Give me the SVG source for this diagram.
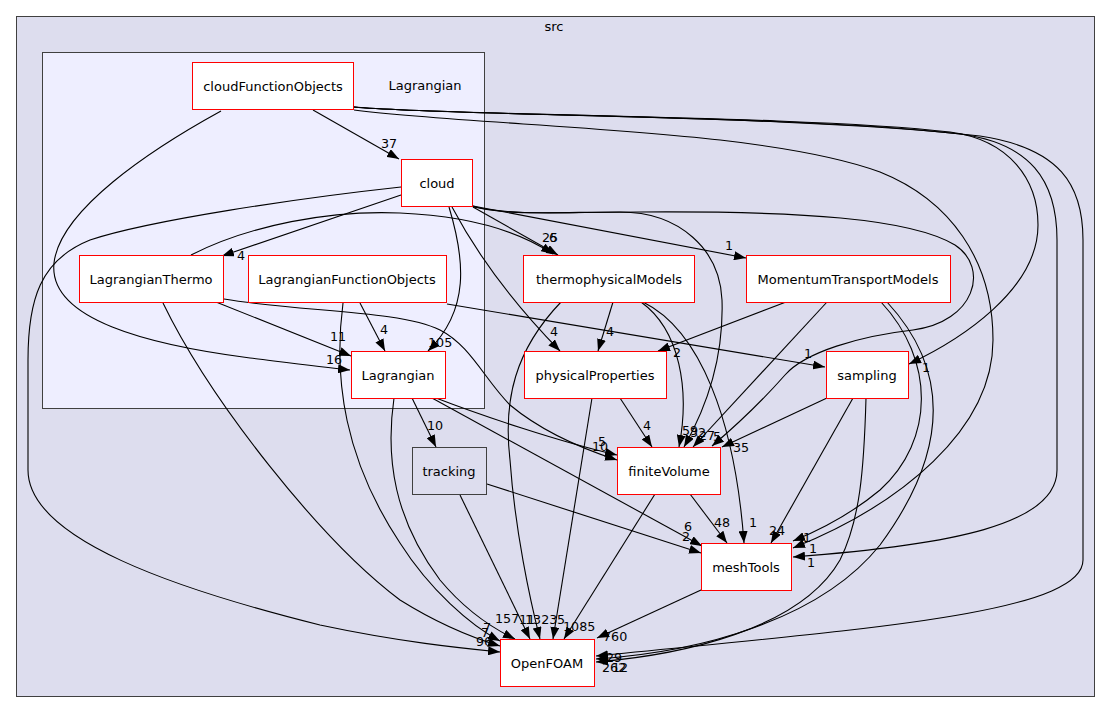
<svg xmlns="http://www.w3.org/2000/svg" width="1111" height="713" viewBox="0 0 1111 713">
<style>
text{font-family:"DejaVu Sans","Liberation Sans",sans-serif;font-size:13px;fill:#000}
.n{fill:#fff;stroke:#ff0000;stroke-width:1}
.t{text-anchor:middle}
.e path{fill:none;stroke:#000;stroke-width:1.1;marker-end:url(#ah)}
.l text{font-size:12.7px}
</style>
<defs>
<marker id="ah" markerWidth="12" markerHeight="9" refX="12" refY="4.5" orient="auto" markerUnits="userSpaceOnUse"><path d="M0,0 L12,4.5 L0,9 z" fill="#000"/></marker>
</defs>
<rect width="1111" height="713" fill="#fff"/>
<g id="cluster_src">
<rect x="16.5" y="16.5" width="1078" height="680" fill="#ddddee" stroke="#404040"/>
<text class="t" x="554" y="31">src</text>
</g>
<g id="cluster_Lagrangian">
<rect x="42.5" y="52.5" width="442" height="356" fill="#eeeeff" stroke="#404040"/>
<text class="t" x="425" y="90">Lagrangian</text>
</g>
<g id="edges" class="e">
<path d="M313,110 L399,159"/>
<path d="M221,111 C150,150 60,210 54,263 C48,320 150,345 250,358 C290,363 320,367 350,370"/>
<path d="M401,195 L222,256"/>
<path d="M449,207 C465,260 470,310 428,351"/>
<path d="M473,207 L558,255"/>
<path d="M191,255 C250,225 330,210 400,213 C470,216 520,232 553,254"/>
<path d="M473,206 L746,258"/>
<path d="M452,207 C480,260 520,310 560,351"/>
<path d="M401,187 C300,198 150,220 90,240 C40,260 28,300 28,360 L28,470 C28,540 180,590 320,625 C400,642 460,648 500,652"/>
<path d="M216,302 L351,356"/>
<path d="M360,303 L385,351"/>
<path d="M447,304 L825,367"/>
<path d="M343,303 C333,380 345,460 400,543 C430,590 470,625 500,641"/>
<path d="M163,303 C210,400 320,540 400,600 C440,625 470,637 500,646"/>
<path d="M224,299 C300,312 400,310 440,330 C470,345 485,380 510,405 C540,430 580,448 617,460"/>
<path d="M436,398 C480,415 560,442 617,455"/>
<path d="M394,398 C385,460 395,520 440,580 C465,610 490,627 515,639"/>
<path d="M412,398 L436,447"/>
<path d="M432,398 L702,546"/>
<path d="M487,484 L701,553"/>
<path d="M460,495 L530,639"/>
<path d="M613,302 L598,351"/>
<path d="M641,302 C680,330 690,390 679,447"/>
<path d="M643,302 C700,330 735,420 744,543"/>
<path d="M561,302 C515,350 503,400 510,460 C515,530 530,600 540,639"/>
<path d="M786,302 L658,351"/>
<path d="M827,302 L693,447"/>
<path d="M881,302 C935,360 935,440 880,490 C850,515 820,530 793,541"/>
<path d="M887,302 C950,370 950,450 880,545 C820,620 700,652 596,659"/>
<path d="M620,398 L652,447"/>
<path d="M592,398 L553,639"/>
<path d="M827,398 L722,447"/>
<path d="M853,398 L771,543"/>
<path d="M866,398 C864,470 860,520 840,560 C800,630 680,655 596,662"/>
<path d="M690,494 L727,543"/>
<path d="M655,494 L564,639"/>
<path d="M701,590 L597,638"/>
<path d="M354,107 C450,116 800,115 950,132 C1010,140 1038,180 1038,225 C1038,290 960,340 909,364"/>
<path d="M354,107 C450,116 800,115 960,134 C1030,143 1057,180 1057,240 L1057,470 C1057,525 950,545 793,557"/>
<path d="M354,107 C450,116 800,115 980,136 C1060,148 1083,185 1083,240 L1083,560 C1083,615 850,630 596,656"/>
<path d="M354,110 C500,128 760,128 880,172 C950,200 993,260 993,340 C993,430 900,505 793,548"/>
<path d="M473,207 C520,216 560,212 640,212 C800,211 910,218 955,245 C990,268 975,322 913,330 C860,336 805,352 785,375 C770,392 745,418 712,446"/>
<path d="M473,206 C500,216 560,212 620,212 C680,212 720,250 722,300 C724,360 705,410 684,447"/>
</g>
<g id="edge_labels" class="l">
<text x="381" y="148">37</text>
<text x="326" y="364">16</text>
<text x="237" y="260">4</text>
<text x="428" y="347">105</text>
<text x="542" y="242">25</text>
<text x="549" y="242">6</text>
<text x="725" y="250">1</text>
<text x="550" y="336">4</text>
<text x="330" y="341">11</text>
<text x="380" y="334">4</text>
<text x="804" y="358">1</text>
<text x="922" y="372">1</text>
<text x="427" y="430">10</text>
<text x="598" y="446">5</text>
<text x="592" y="451">10</text>
<text x="643" y="430">4</text>
<text x="606" y="336">4</text>
<text x="673" y="357">2</text>
<text x="682" y="435">59</text>
<text x="690" y="437">32</text>
<text x="699" y="440">27</text>
<text x="713" y="441">5</text>
<text x="733" y="452">35</text>
<text x="684" y="531">6</text>
<text x="682" y="541">2</text>
<text x="714" y="527">48</text>
<text x="749" y="527">1</text>
<text x="769" y="535">24</text>
<text x="803" y="542">1</text>
<text x="809" y="553">1</text>
<text x="807" y="567">1</text>
<text x="603" y="641">760</text>
<text x="606" y="662">29</text>
<text x="602" y="672">262</text>
<text x="612" y="672">12</text>
<text x="495" y="623">157</text>
<text x="519" y="624">11</text>
<text x="525" y="624">1323</text>
<text x="557" y="624">5</text>
<text x="563" y="631">1085</text>
<text x="483" y="632">7</text>
<text x="481" y="637">7</text>
<text x="476" y="646">96</text>
</g>
<g id="node_cloudFunctionObjects"><rect class="n" x="192.5" y="62.5" width="161" height="47"/><text class="t" x="273" y="91">cloudFunctionObjects</text></g>
<g id="node_cloud"><rect class="n" x="401.5" y="159.5" width="71" height="47"/><text class="t" x="437" y="188">cloud</text></g>
<g id="node_LagrangianThermo"><rect class="n" x="79.5" y="255.5" width="144" height="47"/><text class="t" x="151" y="284">LagrangianThermo</text></g>
<g id="node_LagrangianFunctionObjects"><rect class="n" x="248.5" y="255.5" width="198" height="47"/><text class="t" x="347" y="284">LagrangianFunctionObjects</text></g>
<g id="node_Lagrangian"><rect class="n" x="351.5" y="351.5" width="94" height="47"/><text class="t" x="398" y="380">Lagrangian</text></g>
<g id="node_thermophysicalModels"><rect class="n" x="523.5" y="255.5" width="171" height="47"/><text class="t" x="609" y="284">thermophysicalModels</text></g>
<g id="node_MomentumTransportModels"><rect class="n" x="746.5" y="255.5" width="204" height="47"/><text class="t" x="848" y="284">MomentumTransportModels</text></g>
<g id="node_physicalProperties"><rect class="n" x="524.5" y="351.5" width="142" height="47"/><text class="t" x="595" y="380">physicalProperties</text></g>
<g id="node_sampling"><rect class="n" x="826.5" y="351.5" width="82" height="47"/><text class="t" x="867" y="380">sampling</text></g>
<g id="node_finiteVolume"><rect class="n" x="617.5" y="447.5" width="103" height="47"/><text class="t" x="669" y="476">finiteVolume</text></g>
<g id="node_tracking"><rect x="412.5" y="447.5" width="74" height="47" fill="#ddddee" stroke="#404040"/><text class="t" x="449" y="476">tracking</text></g>
<g id="node_meshTools"><rect class="n" x="701.5" y="543.5" width="90" height="47"/><text class="t" x="746" y="572">meshTools</text></g>
<g id="node_OpenFOAM"><rect class="n" x="500.5" y="639.5" width="94" height="47"/><text class="t" x="547" y="668">OpenFOAM</text></g>
</svg>
